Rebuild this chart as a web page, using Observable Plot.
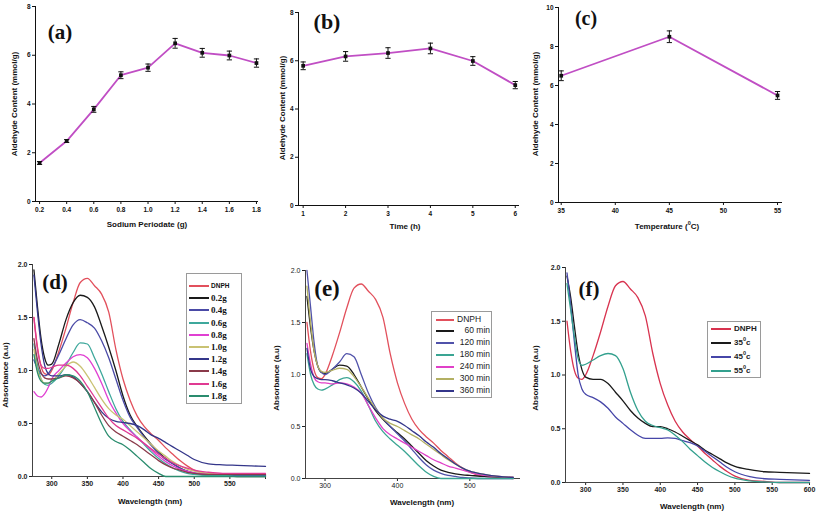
<!DOCTYPE html>
<html><head><meta charset="utf-8">
<script src="https://cdn.jsdelivr.net/npm/d3@7"></script>
<script src="https://cdn.jsdelivr.net/npm/@observablehq/plot@0.6"></script>
<style>
html,body{margin:0;padding:0;background:#fff;}
#root{position:relative;width:817px;height:515px;overflow:hidden;font-family:"Liberation Sans",Arial,sans-serif;color:#111;}
.panel{position:absolute;}
.panel svg{overflow:visible;}
sup{font-size:5.5px;vertical-align:baseline;line-height:0;position:relative;top:-3.6px;}
</style></head>
<body><div id="root"></div>
<script>
// ---------- top row data ----------
const periodate = [0.2,0.4,0.6,0.8,1.0,1.2,1.4,1.6,1.8];
const aldehydeA = [1.58,2.48,3.78,5.18,5.49,6.49,6.10,5.99,5.68];
const errA      = [0.06,0.06,0.12,0.14,0.15,0.20,0.18,0.18,0.17];
const timeH     = [1,2,3,4,5,6];
const aldehydeB = [5.79,6.18,6.32,6.51,5.99,4.99];
const errB      = [0.16,0.20,0.22,0.22,0.18,0.15];
const tempC     = [35,45,55];
const aldehydeC = [6.5,8.5,5.49];
const errC      = [0.25,0.30,0.20];

// ---------- spectra data ----------
const wavelengths = [275,280,285,290,295,300,310,320,330,340,350,360,370,380,390,400,410,420,430,440,450,460,470,480,490,500,520,540,560,580,600];
const dnph = [1.50,1.22,1.04,0.97,0.96,1.00,1.18,1.40,1.64,1.83,1.87,1.80,1.72,1.55,1.20,0.92,0.72,0.57,0.47,0.40,0.34,0.27,0.21,0.15,0.10,0.06,0.02,0.01,0,0,0];
// (d) sodium periodate amount
const d02 = [1.95,1.60,1.30,1.12,1.05,1.06,1.25,1.48,1.64,1.71,1.69,1.60,1.42,1.22,1.00,0.76,0.58,0.47,0.38,0.30,0.23,0.17,0.12,0.08,0.05,0.03,0.015,0.01,0.01,0.01,0.01];
const d04 = [1.10,1.02,0.97,0.95,0.97,1.02,1.15,1.30,1.43,1.48,1.45,1.40,1.28,1.12,0.92,0.72,0.56,0.46,0.37,0.29,0.22,0.16,0.12,0.08,0.05,0.035,0.02,0.01,0.01,0.01,0.01];
const d06 = [1.25,1.05,0.92,0.87,0.86,0.88,0.95,1.05,1.17,1.26,1.25,1.12,0.97,0.80,0.64,0.52,0.44,0.37,0.30,0.23,0.17,0.12,0.08,0.05,0.03,0.02,0.01,0.01,0,0,0];
const d08 = [0.80,0.76,0.75,0.78,0.84,0.92,1.00,1.07,1.13,1.15,1.12,1.02,0.88,0.72,0.60,0.50,0.43,0.37,0.31,0.25,0.19,0.14,0.10,0.07,0.05,0.035,0.025,0.02,0.02,0.02,0.02];
const d10 = [1.20,1.00,0.92,0.88,0.88,0.90,0.97,1.04,1.08,1.04,0.95,0.84,0.73,0.64,0.58,0.54,0.48,0.42,0.36,0.30,0.24,0.19,0.14,0.10,0.07,0.05,0.03,0.02,0.02,0.02,0.02];
const d12 = [1.90,1.55,1.25,1.05,0.97,0.95,0.95,0.96,0.94,0.88,0.80,0.70,0.61,0.55,0.52,0.51,0.50,0.48,0.44,0.39,0.36,0.32,0.28,0.24,0.20,0.16,0.12,0.11,0.105,0.10,0.095];
const d14 = [1.30,1.10,0.98,0.93,0.92,0.92,0.93,0.95,0.93,0.88,0.80,0.70,0.58,0.48,0.42,0.38,0.34,0.30,0.25,0.20,0.15,0.11,0.08,0.06,0.04,0.03,0.02,0.02,0.02,0.02,0.02];
const d16 = [1.50,1.20,1.05,1.02,1.02,1.03,1.05,1.05,1.02,0.95,0.85,0.75,0.65,0.55,0.48,0.44,0.40,0.36,0.31,0.26,0.21,0.17,0.13,0.10,0.08,0.06,0.04,0.03,0.03,0.03,0.03];
const d18 = [1.15,0.98,0.90,0.88,0.88,0.90,0.93,0.96,0.95,0.90,0.80,0.65,0.50,0.38,0.33,0.30,0.25,0.19,0.13,0.07,0.03,0,0,0,0,0,0,0,0,0,0];
// (e) time
const e60  = [1.75,1.45,1.22,1.08,1.02,1.01,1.05,1.09,1.08,1.00,0.88,0.76,0.65,0.57,0.50,0.44,0.38,0.31,0.24,0.17,0.12,0.08,0.06,0.045,0.035,0.03,0.02,0.015,0.01,0.01,0.01];
const e120 = [2.00,1.65,1.30,1.08,1.02,1.00,1.05,1.12,1.20,1.17,1.00,0.82,0.68,0.58,0.50,0.43,0.36,0.28,0.20,0.13,0.08,0.05,0.03,0.02,0.01,0.005,0,0,0,0,0];
const e180 = [1.20,1.00,0.90,0.86,0.85,0.86,0.90,0.95,0.97,0.93,0.84,0.70,0.55,0.45,0.38,0.32,0.26,0.19,0.12,0.06,0.02,0,0,0,0,0,0,0,0,0,0];
const e240 = [1.30,1.10,0.97,0.93,0.92,0.92,0.91,0.92,0.91,0.88,0.82,0.70,0.58,0.48,0.42,0.38,0.34,0.30,0.26,0.22,0.18,0.15,0.12,0.10,0.08,0.06,0.03,0.02,0.01,0.01,0.01];
const e300 = [1.85,1.50,1.22,1.08,1.03,1.02,1.04,1.06,1.05,0.98,0.88,0.77,0.67,0.58,0.53,0.50,0.46,0.42,0.38,0.33,0.28,0.23,0.18,0.14,0.10,0.07,0.04,0.02,0.01,0.01,0.01];
const e360 = [1.25,1.05,0.98,0.96,0.95,0.95,0.94,0.92,0.90,0.87,0.82,0.74,0.66,0.60,0.57,0.55,0.51,0.46,0.41,0.35,0.30,0.24,0.19,0.14,0.10,0.07,0.04,0.02,0.01,0.01,0.01];
// (f) temperature
const f35 = [1.92,1.72,1.45,1.20,1.05,0.98,0.96,0.96,0.92,0.84,0.76,0.67,0.60,0.55,0.52,0.52,0.50,0.47,0.43,0.39,0.35,0.30,0.26,0.22,0.18,0.15,0.12,0.10,0.095,0.09,0.085];
const f45 = [1.95,1.65,1.30,1.00,0.87,0.82,0.79,0.75,0.69,0.61,0.55,0.49,0.44,0.41,0.41,0.41,0.415,0.41,0.39,0.37,0.34,0.29,0.24,0.19,0.14,0.10,0.055,0.035,0.03,0.025,0.02];
const f55 = [1.85,1.60,1.35,1.15,1.09,1.10,1.14,1.18,1.20,1.18,1.06,0.84,0.67,0.57,0.53,0.51,0.49,0.44,0.38,0.31,0.25,0.19,0.14,0.10,0.065,0.04,0.015,0.005,0,0,0];

const namesD  = ["DNPH","0.2g","0.4g","0.6g","0.8g","1.0g","1.2g","1.4g","1.6g","1.8g"];
const colorsD = ["#e2505c","#1a1a1a","#4a4aa6","#3ea89c","#e040d2","#c9c273","#34368a","#8a3a4a","#e03a92","#2a8c6e"];
const namesE  = ["DNPH","60 min","120 min","180 min","240 min","300 min","360 min"];
const colorsE = ["#e2505c","#1a1a1a","#5052aa","#3aa593","#e040c8","#b3b063","#34368a"];
const namesF  = ["DNPH","35°c","45°c","55°c"];
const labelsF = ["DNPH","35<sup>0</sup>c","45<sup>0</sup>c","55<sup>0</sup>c"];
const colorsF = ["#d8334f","#1a1a1a","#4646a8","#33a08e"];

// ---------- helpers ----------
const root = document.getElementById("root");
function place(node, left, top) {
  const d = document.createElement("div");
  d.className = "panel"; d.style.left = left + "px"; d.style.top = top + "px";
  d.append(node); root.append(d);
}
function label(html, cx, cy, style, rot) {
  const d = document.createElement("div");
  d.innerHTML = html;
  d.style.cssText = `position:absolute;left:${cx}px;top:${cy}px;white-space:nowrap;line-height:1;transform:translate(-50%,-50%)${rot ? " rotate(-90deg)" : ""};` + style;
  root.append(d);
}
const cap = {draw(ctx, size) { const r = Math.sqrt(size / Math.PI); ctx.moveTo(-r, 0); ctx.lineTo(r, 0); }};

function trend(xs, ys, es, o) {
  const rows = xs.map((x, i) => ({x, y: ys[i], lo: ys[i] - es[i], hi: ys[i] + es[i]}));
  return Plot.plot({
    width: o.width, height: o.height,
    marginLeft: o.ml, marginRight: o.mr, marginTop: o.mt, marginBottom: o.mb,
    x: {domain: o.xd}, y: {domain: o.yd},
    style: {fontFamily: "'Liberation Sans',Arial,sans-serif", fontSize: "6.5px", fontWeight: "bold", color: "#111", background: "transparent"},
    marks: [
      Plot.axisX({ticks: o.xt, tickFormat: o.xf, tickSize: 3, tickPadding: 3, label: null}),
      Plot.axisY({ticks: o.yt, tickSize: 3, tickPadding: 2, label: null}),
      Plot.ruleY([o.yd[0]], {stroke: "#111"}),
      Plot.ruleX([o.xd[0]], {stroke: "#111"}),
      Plot.line(rows, {x: "x", y: "y", stroke: "#c04ec4", strokeWidth: 1.8}),
      Plot.ruleX(rows, {x: "x", y1: "lo", y2: "hi", stroke: "#111", strokeWidth: 1}),
      Plot.dot(rows, {x: "x", y: "hi", symbol: cap, r: 2.6, stroke: "#111", fill: "none", strokeWidth: 1}),
      Plot.dot(rows, {x: "x", y: "lo", symbol: cap, r: 2.6, stroke: "#111", fill: "none", strokeWidth: 1}),
      Plot.dot(rows, {x: "x", y: "y", symbol: "square", r: 2.1, fill: "#111", stroke: "none"})
    ]
  });
}

function spectra(series, names, colors, o) {
  const rows = [];
  series.forEach((vals, k) => wavelengths.forEach((w, i) => { if (w <= o.xmax) rows.push({w, a: vals[i], s: names[k]}); }));
  return Plot.plot({
    width: o.width, height: o.height,
    marginLeft: o.ml, marginRight: o.mr, marginTop: o.mt, marginBottom: o.mb,
    x: {domain: [273, o.xmax]}, y: {domain: [0, 2]},
    color: {domain: names, range: colors},
    style: {fontFamily: "'Liberation Sans',Arial,sans-serif", fontSize: "7px", fontWeight: o.weight, color: "#222", background: "transparent"},
    marks: [
      Plot.axisX({ticks: o.xt, tickFormat: o.xf, tickSize: 3, tickPadding: 2, label: null}),
      Plot.axisY({ticks: [0, 0.5, 1, 1.5, 2], tickFormat: ".1f", tickSize: 3, tickPadding: 2, label: null}),
      Plot.ruleY([0], {stroke: "#444"}),
      Plot.ruleX([273], {stroke: "#444"}),
      Plot.line(rows, {x: "w", y: "a", z: "s", stroke: "s", strokeWidth: 1.3, curve: "monotone-x"})
    ]
  });
}

function legend(items, colors, o) {
  const box = document.createElement("div");
  box.style.cssText = `position:absolute;left:${o.left}px;top:${o.top}px;width:${o.w}px;height:${o.h}px;border:1px solid #9a9a9a;background:#fff;box-sizing:border-box;`;
  items.forEach((html, i) => {
    const rowTop = Math.round(o.pad + i * o.step);
    const row = document.createElement("div");
    row.style.cssText = `position:absolute;left:0;top:${rowTop}px;height:${o.step}px;width:100%;`;
    const seg = document.createElement("div");
    seg.style.cssText = `position:absolute;left:${o.lx}px;top:${Math.round(o.step / 2 - o.lw / 2)}px;width:${o.llen}px;height:${o.lw}px;background:${colors[i]};`;
    const t = document.createElement("div");
    const f = (o.font0 && i === 0) ? o.font0 : o.font;
    const align = (o.alignRest && i > 0) ? o.alignRest : "left";
    t.style.cssText = `position:absolute;left:${o.tx}px;width:${o.tw}px;top:0;height:${o.step}px;line-height:${o.step}px;white-space:nowrap;text-align:${align};` + f;
    t.innerHTML = html;
    row.append(seg, t); box.append(row);
  });
  root.append(box);
}

// ---------- top row ----------
place(trend(periodate, aldehydeA, errA, {width: 272, height: 230, ml: 35, mr: 14, mt: 6, mb: 29,
  xd: [0.17, 1.815], yd: [0, 8], xt: periodate, xf: d3.format(".1f"), yt: [0, 2, 4, 6, 8]}), 0, 0);
place(trend(timeH, aldehydeB, errB, {width: 272, height: 230, ml: 26, mr: 25, mt: 12, mb: 25,
  xd: [0.89, 6.1], yd: [0, 8], xt: timeH, xf: d3.format("d"), yt: [0, 2, 4, 6, 8]}), 272, 0);
place(trend(tempC, aldehydeC, errC, {width: 273, height: 230, ml: 14, mr: 35, mt: 7, mb: 28,
  xd: [34.75, 55.46], yd: [0, 10], xt: [35, 40, 45, 50, 55], xf: d3.format("d"), yt: [0, 2, 4, 6, 8, 10]}), 544, 0);

// ---------- bottom row ----------
place(spectra([dnph, d02, d04, d06, d08, d10, d12, d14, d16, d18], namesD, colorsD,
  {width: 272, height: 260, ml: 32, mr: 7, mt: 9, mb: 39, xmax: 600, weight: "bold",
   xt: [300, 350, 400, 450, 500, 550, 600], xf: d => d === 600 ? "" : d}), 0, 255);
place(spectra([dnph, e60, e120, e180, e240, e300, e360], namesE, colorsE,
  {width: 272, height: 260, ml: 33, mr: 24, mt: 15, mb: 37, xmax: 570, weight: "normal",
   xt: [300, 400, 500], xf: d => d}), 272, 255);
place(spectra([dnph, f35, f45, f55], namesF, colorsF,
  {width: 273, height: 260, ml: 21, mr: 8, mt: 12, mb: 33, xmax: 600, weight: "bold",
   xt: [300, 350, 400, 450, 500, 550, 600], xf: d => d}), 544, 255);

// ---------- titles ----------
const ax = "font-family:'Liberation Sans',Arial,sans-serif;font-weight:bold;font-size:8px;color:#111;";
const pl = "font-family:'Liberation Serif','Times New Roman',serif;font-weight:bold;color:#111;";
label("Aldehyde Content (mmol/g)", 15, 104, ax, true);
label("Sodium Periodate (g)", 147, 225, ax);
label("Aldehyde Content (mmol/g)", 283, 108, ax, true);
label("Time (h)", 405, 227, ax);
label("Aldehyde Content (mmol/g)", 536, 104, ax, true);
label("Temperature (<sup>0</sup>C)", 667, 227, ax);
label("(a)", 60, 32, pl + "font-size:21px;");
label("(b)", 327, 22, pl + "font-size:22px;");
label("(c)", 586, 18, pl + "font-size:20px;");

label("Absorbance (a.u)", 6, 375, ax, true);
label("Wavelength (nm)", 150, 502, ax);
label("Absorbance (a.u)", 277, 378, ax, true);
label("Wavelength (nm)", 422, 503, ax);
label("Absorbance (a.u)", 536, 378, ax, true);
label("Wavelength (nm)", 692, 507, ax);
label("(d)", 55, 282, pl + "font-size:21px;");
label("(e)", 327, 288, pl + "font-size:23px;");
label("(f)", 589, 289, pl + "font-size:21px;");

// ---------- legends ----------
legend(namesD, colorsD, {left: 186, top: 273, w: 56, h: 131, pad: 6, step: 12.2, lx: 2, llen: 20, lw: 2, tx: 24, tw: 30,
  font: "font-family:'Liberation Serif','Times New Roman',serif;font-weight:bold;font-size:9px;",
  font0: "font-family:'Liberation Sans',Arial,sans-serif;font-weight:bold;font-size:6.5px;"});
legend(namesE, colorsE, {left: 431, top: 311, w: 61, h: 87, pad: 1.5, step: 11.9, lx: 4, llen: 18, lw: 2, tx: 25, tw: 33, alignRest: "right",
  font: "font-family:'Liberation Sans',Arial,sans-serif;font-size:8.5px;color:#222;"});
legend(labelsF, colorsF, {left: 707, top: 321, w: 54, h: 57, pad: 0, step: 14, lx: 3, llen: 20, lw: 2, tx: 26, tw: 27,
  font: "font-family:'Liberation Sans',Arial,sans-serif;font-weight:bold;font-size:8px;color:#222;"});
</script>
</body></html>
